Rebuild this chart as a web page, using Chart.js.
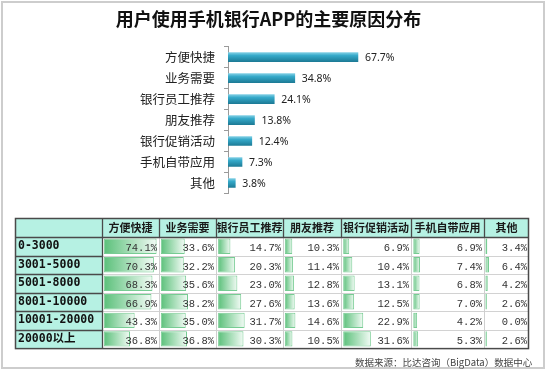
<!DOCTYPE html>
<html>
<head>
<meta charset="utf-8">
<script src="https://cdn.jsdelivr.net/npm/chart.js@4.4.0/dist/chart.umd.min.js"></script>
<style>
  body { margin: 0; background: #fff; }
  #frame { position: absolute; left: 1px; top: 1px; width: 540px; height: 364px; border: 2px solid #cdcdcd; }
  #top { position: absolute; left: 0; top: 0; }
  #table { position: absolute; left: 0; top: 205px; }
  #source { position: absolute; left: 355px; top: 355px; font: 9.5px "Noto Sans CJK SC"; color: #444; white-space: nowrap; }
</style>
</head>
<body>
<div id="frame"></div>
<canvas id="top" width="548" height="210"></canvas>
<canvas id="table" width="548" height="150"></canvas>
<div id="source">数据来源：比达咨询（BigData）数据中心</div>
<script>
// overall reasons (top bar chart)
const reasons = ['方便快捷', '业务需要', '银行员工推荐', '朋友推荐', '银行促销活动', '手机自带应用', '其他'];
const reasonShares = [67.7, 34.8, 24.1, 13.8, 12.4, 7.3, 3.8];

// by income group (table with data bars), one list per column
const incomeGroups = ['0-3000', '3001-5000', '5001-8000', '8001-10000', '10001-20000', '20000以上'];
const convenient = [74.1, 70.3, 68.3, 66.9, 43.3, 36.8];
const businessNeed = [33.6, 32.2, 35.6, 38.2, 35.0, 36.8];
const staffRecommend = [14.7, 20.3, 23.0, 27.6, 31.7, 30.3];
const friendRecommend = [10.3, 11.4, 12.8, 13.6, 14.6, 10.5];
const bankPromotion = [6.9, 10.4, 13.1, 12.5, 22.9, 31.6];
const builtInApp = [6.9, 7.4, 6.8, 7.0, 4.2, 5.3];
const others = [3.4, 6.4, 4.2, 2.6, 0.0, 2.6];

const tableSeries = [convenient, businessNeed, staffRecommend, friendRecommend, bankPromotion, builtInApp, others];
const columnWeights = [57, 57, 67, 58, 70, 73, 45];

function tealGradient(context) {
  const chart = context.chart;
  const yScale = chart.scales.y;
  if (!yScale || context.dataIndex === undefined) return '#2fa5c5';
  const y = yScale.getPixelForValue(context.dataIndex);
  if (!isFinite(y)) return '#2fa5c5';
  const g = chart.ctx.createLinearGradient(0, y - 5, 0, y + 5);
  g.addColorStop(0, '#8bd4e8');
  g.addColorStop(0.35, '#35a9c9');
  g.addColorStop(1, '#1b7893');
  return g;
}

const shareLabels = {
  id: 'shareLabels',
  afterDatasetsDraw(chart) {
    const ctx = chart.ctx;
    const meta = chart.getDatasetMeta(0);
    ctx.save();
    ctx.font = '10.5px "Noto Sans"';
    ctx.fillStyle = '#222';
    ctx.textBaseline = 'middle';
    meta.data.forEach((bar, i) => {
      ctx.fillText(reasonShares[i].toFixed(1) + '%', bar.x + 7, bar.y + 1);
    });
    ctx.restore();
  }
};

function initTopChart() {
  const target = document.querySelector('#top');
  return new Chart(target, {
    type: 'bar',
    data: {
      labels: reasons,
      datasets: [{
        data: reasonShares,
        backgroundColor: tealGradient,
        barThickness: 9,
        borderWidth: 0
      }]
    },
    options: {
      indexAxis: 'y',
      responsive: false,
      animation: false,
      layout: { padding: { left: 0, right: 11, top: 0, bottom: 6 } },
      plugins: {
        legend: { display: false },
        tooltip: { enabled: false },
        title: {
          display: true,
          text: '用户使用手机银行APP的主要原因分布',
          color: '#111',
          font: { family: '"Noto Sans CJK SC"', size: 18, weight: 'bold' },
          padding: { top: 8, bottom: 17 }
        }
      },
      scales: {
        x: { display: false, min: 0, max: 161 },
        y: {
          afterFit: (scale) => { scale.width = 228; },
          grid: { offset: true, drawOnChartArea: false, tickLength: 4, color: '#9a9a9a' },
          border: { color: '#9a9a9a' },
          ticks: {
            padding: 9,
            color: '#222',
            font: { family: '"Noto Sans CJK SC"', size: 12.5 }
          }
        }
      }
    },
    plugins: [shareLabels]
  });
}

function greenGradient(context) {
  const chart = context.chart;
  const scale = chart.scales['c' + context.datasetIndex];
  if (!scale || context.raw === undefined) return '#63c384';
  const x0 = scale.getPixelForValue(0);
  const x1 = Math.max(scale.getPixelForValue(context.raw), x0 + 1);
  if (!isFinite(x0) || !isFinite(x1)) return '#63c384';
  const g = chart.ctx.createLinearGradient(x0, 0, x1, 0);
  g.addColorStop(0, '#5bc07a');
  g.addColorStop(1, '#f2fbf5');
  return g;
}

const tableGrid = {
  id: 'tableGrid',
  beforeDraw(chart) {
    const ctx = chart.ctx;
    const area = chart.chartArea;
    const y = chart.scales.y;
    const left = y.left - 3;
    const top = chart.scales.c0.top;
    const right = chart.scales['c' + (reasons.length - 1)].right;
    ctx.save();
    ctx.fillStyle = '#b6f1e3';
    ctx.fillRect(left, top, right - left, area.top - top);
    ctx.fillRect(left, area.top, area.left - left, area.bottom - area.top);
    ctx.restore();
  },
  afterDatasetsDraw(chart) {
    const ctx = chart.ctx;
    const area = chart.chartArea;
    const y = chart.scales.y;
    const left = y.left - 3;
    const top = chart.scales.c0.top;
    const right = chart.scales['c' + (reasons.length - 1)].right;
    const half = (y.getPixelForValue(1) - y.getPixelForValue(0)) / 2;
    const line = (x1, y1, x2, y2, color, w) => {
      ctx.strokeStyle = color;
      ctx.lineWidth = w;
      ctx.beginPath();
      ctx.moveTo(x1, y1);
      ctx.lineTo(x2, y2);
      ctx.stroke();
    };
    ctx.save();
    // row separators
    incomeGroups.forEach((g, r) => {
      if (r === 0) return;
      const yy = Math.round(y.getPixelForValue(r) - half) + 0.5;
      line(area.left, yy, right, yy, '#d2d2d2', 1);
      line(left, yy, area.left, yy, '#4a4a4a', 1.3);
    });
    // column separators
    reasons.forEach((name, c) => {
      if (c === 0) return;
      const xx = Math.round(chart.scales['c' + c].left) + 0.5;
      line(xx, area.top, xx, area.bottom, '#cfcfcf', 1);
      line(xx, top, xx, area.top, '#4a4a4a', 1.3);
    });
    line(area.left + 0.5, top, area.left + 0.5, area.bottom, '#4a4a4a', 1.3);
    line(left, area.top + 0.5, right, area.top + 0.5, '#4a4a4a', 1.3);
    ctx.strokeStyle = '#4a4a4a';
    ctx.lineWidth = 1.5;
    ctx.strokeRect(left + 0.5, top + 0.5, right - left - 1, area.bottom - top);

    // cell values
    ctx.font = '10.5px "Liberation Mono"';
    ctx.fillStyle = '#333';
    ctx.textAlign = 'right';
    ctx.textBaseline = 'middle';
    tableSeries.forEach((series, c) => {
      const scale = chart.scales['c' + c];
      series.forEach((v, r) => {
        ctx.fillText(v.toFixed(1) + '%', scale.right - 2, y.getPixelForValue(r) + 2);
      });
    });
    ctx.restore();
  }
};

function initTableChart() {
  const target = document.querySelector('#table');
  const scales = {
    y: {
      afterFit: (scale) => { scale.width = 84; },
      grid: { display: false },
      border: { display: false },
      ticks: {
        autoSkip: false,
        crossAlign: 'far',
        padding: 0,
        color: '#111',
        font: { family: '"DejaVu Sans Mono", "Noto Sans CJK SC"', size: 11.5, weight: 'bold' }
      }
    }
  };
  reasons.forEach((name, c) => {
    scales['c' + c] = {
      type: 'linear',
      position: 'top',
      stack: 'cols',
      stackWeight: columnWeights[c],
      weight: -c, // top boxes are laid out in reverse, keep first column on the left
      min: -2.5,
      max: 77.5,
      afterFit: (scale) => { scale.height = 19; },
      ticks: { display: false },
      grid: { display: false },
      border: { display: false },
      title: {
        display: true,
        text: name,
        color: '#1a1a1a',
        font: { family: '"Noto Sans CJK SC"', size: 11, weight: 'bold' },
        padding: { top: 3, bottom: 0 }
      }
    };
  });

  const datasets = tableSeries.map((series, c) => ({
    label: reasons[c],
    data: series,
    xAxisID: 'c' + c,
    yAxisID: 'y',
    grouped: false,
    categoryPercentage: 1,
    barPercentage: 0.83,
    backgroundColor: greenGradient,
    borderColor: '#77cc93',
    borderWidth: 1,
    borderSkipped: false
  }));

  return new Chart(target, {
    type: 'bar',
    data: { labels: incomeGroups, datasets: datasets },
    options: {
      indexAxis: 'y',
      responsive: false,
      animation: false,
      layout: { padding: { left: 18, right: 19, top: 13, bottom: 5 } },
      plugins: { legend: { display: false }, tooltip: { enabled: false } },
      scales: scales
    },
    plugins: [tableGrid]
  });
}

document.addEventListener('DOMContentLoaded', () => {
  initTopChart();
  initTableChart();
});
</script>
</body>
</html>
